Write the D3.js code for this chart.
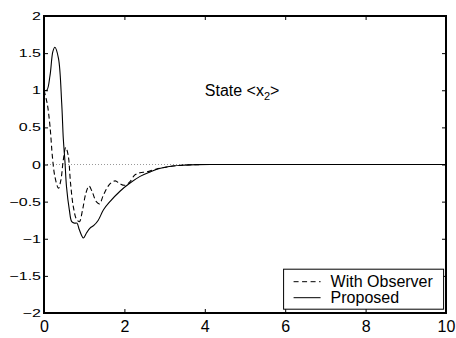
<!DOCTYPE html>
<html>
<head>
<meta charset="utf-8">
<script src="https://cdn.jsdelivr.net/npm/d3@7"></script>
<style>
  body { margin: 0; background: #fff; }
  text { font-family: "Liberation Sans", Arial, sans-serif; }
</style>
</head>
<body>
<div id="chart-area"></div>
<script>

// Proposed (solid)
var tProposed = [0, 0.07, 0.15, 0.22, 0.27, 0.36, 0.44, 0.48, 0.52, 0.56, 0.63, 0.69, 0.76, 0.82, 0.88, 0.98,
	1.06, 1.14, 1.24, 1.35, 1.48, 1.64, 1.89, 2.14, 2.39, 2.64, 2.9, 3.2, 3.5, 3.8, 4.2, 5, 6, 7, 8, 9, 10];
var yProposed = [1.0, 1.0, 1.2, 1.52, 1.58, 1.43, 0.83, 0.35, 0.05, -0.3, -0.61, -0.77, -0.79, -0.79, -0.88, -0.99,
	-0.92, -0.86, -0.82, -0.75, -0.61, -0.5, -0.36, -0.25, -0.16, -0.1, -0.05, -0.02, -0.008, -0.002, 0, 0, 0, 0, 0, 0, 0];

// With Observer (dashed)
var tObserver = [0, 0.08, 0.15, 0.21, 0.27, 0.36, 0.42, 0.48, 0.54, 0.6, 0.66, 0.73, 0.81, 0.88, 0.96,
	1.04, 1.12, 1.2, 1.3, 1.38, 1.48, 1.64, 1.77, 1.89, 2.01, 2.14, 2.26, 2.39, 2.55, 2.8, 3.0, 3.3, 3.6, 4.0, 5, 6, 7, 8, 9, 10];
var yObserver = [1.0, 0.82, 0.51, 0.1, -0.16, -0.32, -0.21, 0.06, 0.23, 0.13, -0.25, -0.57, -0.74, -0.77, -0.61,
	-0.39, -0.29, -0.37, -0.5, -0.53, -0.41, -0.26, -0.22, -0.26, -0.28, -0.23, -0.14, -0.11, -0.1, -0.06, -0.04, -0.015, -0.005, 0, 0, 0, 0, 0, 0, 0];

var xTicks = [0, 2, 4, 6, 8, 10];
var yTicks = [-2, -1.5, -1, -0.5, 0, 0.5, 1, 1.5, 2];
var legendLabels = ["With Observer", "Proposed"];

var margin = {top: 16, right: 10, bottom: 25, left: 44};
var width = 456 - margin.left - margin.right,
	height = 338 - margin.top - margin.bottom;

var svg = d3.select("#chart-area").append("svg")
	.attr("width", 456)
	.attr("height", 338)
	.append("g")
	.attr("transform", "translate(" + margin.left + "," + margin.top + ")");

var x = d3.scaleLinear().domain([0, 10]).range([0, width]);
var y = d3.scaleLinear().domain([-2, 2]).range([height, 0]);

// zero reference line (dotted)
svg.append("line")
	.attr("x1", x(0)).attr("x2", x(10))
	.attr("y1", y(0)).attr("y2", y(0))
	.attr("stroke", "#999")
	.attr("stroke-width", 1)
	.attr("stroke-dasharray", "1,2");

var line = d3.line()
	.x(d => x(d[0]))
	.y(d => y(d[1]))
	.curve(d3.curveCatmullRom.alpha(0.5));

var proposed = tProposed.map((t, i) => [t, yProposed[i]]);
var observer = tObserver.map((t, i) => [t, yObserver[i]]);

svg.append("path")
	.datum(observer)
	.attr("d", line)
	.attr("fill", "none")
	.attr("stroke", "#000")
	.attr("stroke-width", 1.1)
	.attr("stroke-dasharray", "5,3");

svg.append("path")
	.datum(proposed)
	.attr("d", line)
	.attr("fill", "none")
	.attr("stroke", "#000")
	.attr("stroke-width", 1.1);

// axes, ticks pointing inward
var xAxis = d3.axisBottom(x).tickValues(xTicks).tickSize(-4).tickPadding(8).tickFormat(d3.format("d"));
var yAxis = d3.axisLeft(y).tickValues(yTicks).tickSize(-4).tickPadding(3).tickFormat(d3.format("~g"));

var gx = svg.append("g").attr("transform", "translate(0," + height + ")").call(xAxis);
var gy = svg.append("g").call(yAxis);
svg.append("g").call(d3.axisTop(x).tickValues(xTicks).tickSize(-4).tickFormat(""));
svg.append("g").attr("transform", "translate(" + width + ",0)")
	.call(d3.axisRight(y).tickValues(yTicks).tickSize(-4).tickFormat(""));

svg.selectAll(".domain").remove();
svg.selectAll(".tick line").attr("stroke", "#000");

gx.selectAll("text")
	.attr("font-size", 16)
	.attr("font-family", "Liberation Sans, Arial, sans-serif")
	.attr("fill", "#000");

gy.selectAll("text")
	.attr("font-size", 16)
	.attr("font-family", "Liberation Sans, Arial, sans-serif")
	.attr("fill", "#000")
	.attr("transform", "scale(1,0.7)");

// plot box
svg.append("rect")
	.attr("width", width)
	.attr("height", height)
	.attr("fill", "none")
	.attr("stroke", "#000")
	.attr("stroke-width", 2);

// title inside the plot
var title = svg.append("text")
	.attr("x", x(4.0))
	.attr("y", y(0.92))
	.attr("font-size", 16)
	.attr("fill", "#000");
title.append("tspan").text("State <x");
title.append("tspan").attr("font-size", 11).attr("dy", 4).text("2");
title.append("tspan").attr("dy", -4).text(">");

// legend
var lg = svg.append("g").attr("transform", "translate(" + (x(5.96)) + "," + (y(-1.41)) + ")");
lg.append("rect")
	.attr("width", 160)
	.attr("height", 40)
	.attr("fill", "#fff")
	.attr("stroke", "#000")
	.attr("stroke-width", 1);

legendLabels.forEach(function(label, i) {
	var cy = 12.5 + i * 16;
	lg.append("line")
		.attr("x1", 10).attr("x2", 37)
		.attr("y1", cy).attr("y2", cy)
		.attr("stroke", "#000")
		.attr("stroke-width", 1)
		.attr("stroke-dasharray", i == 0 ? "5,3.5" : null);
	lg.append("text")
		.attr("x", 47)
		.attr("y", cy + 5.5)
		.attr("font-size", 16)
		.attr("fill", "#000")
		.text(label);
});

</script>
</body>
</html>
